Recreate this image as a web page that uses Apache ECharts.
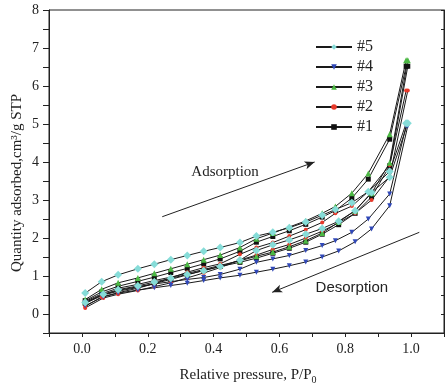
<!DOCTYPE html>
<html><head><meta charset="utf-8">
<script src="https://cdn.jsdelivr.net/npm/echarts@6/dist/echarts.min.js"></script>
<style>html,body{margin:0;padding:0;background:#fff}#c{width:447px;height:392px}</style>
</head><body><div id="c"></div>
<script>
// Relative pressure values (adsorption / desorption branches)
const xAds = [0.01,0.065,0.11,0.17,0.22,0.27,0.32,0.37,0.42,0.48,0.53,0.58,0.63,0.68,0.73,0.78,0.83,0.88,0.935,0.99];
const xDes = [0.01,0.06,0.11,0.17,0.22,0.27,0.32,0.37,0.42,0.48,0.53,0.58,0.63,0.68,0.73,0.77,0.82,0.87,0.935,0.985];
// Quantity adsorbed (cm3/g STP)
const s1Low = [0.28,0.50,0.60,0.70,0.80,0.91,1.03,1.15,1.25,1.36,1.47,1.60,1.73,1.89,2.10,2.35,2.65,3.08,3.90,6.52];
const s1Up  = [0.35,0.58,0.73,0.86,0.97,1.09,1.20,1.32,1.45,1.65,1.89,2.04,2.19,2.36,2.55,2.72,3.05,3.55,4.60,6.52];
const s2Low = [0.16,0.42,0.52,0.62,0.72,0.82,0.95,1.08,1.22,1.42,1.55,1.70,1.83,2.00,2.18,2.40,2.65,3.00,3.62,5.88];
const s2Up  = [0.20,0.45,0.56,0.68,0.80,0.95,1.10,1.22,1.32,1.57,1.75,1.88,2.05,2.22,2.41,2.65,2.84,3.22,3.92,5.88];
const s3Low = [0.33,0.55,0.68,0.78,0.88,0.97,1.07,1.17,1.28,1.40,1.52,1.63,1.77,1.93,2.13,2.42,2.72,3.18,3.98,6.68];
const s3Up  = [0.38,0.65,0.82,0.95,1.07,1.19,1.31,1.43,1.55,1.75,1.98,2.13,2.29,2.45,2.65,2.83,3.18,3.70,4.73,6.68];
const s4Low = [0.22,0.45,0.55,0.63,0.69,0.75,0.81,0.88,0.95,1.02,1.10,1.18,1.27,1.37,1.50,1.66,1.90,2.24,2.85,4.95];
const s4Up  = [0.30,0.50,0.62,0.72,0.79,0.85,0.91,0.96,1.04,1.18,1.36,1.45,1.54,1.67,1.80,1.93,2.15,2.50,3.16,4.95];
const s5Low = [0.30,0.52,0.64,0.74,0.84,0.94,1.04,1.14,1.25,1.42,1.67,1.82,1.95,2.10,2.25,2.44,2.72,3.20,3.60,5.02];
const s5Up  = [0.55,0.85,1.03,1.19,1.31,1.43,1.54,1.65,1.75,1.88,2.05,2.15,2.27,2.42,2.60,2.75,2.93,3.22,3.75,5.02];
const legendNames = ['#5','#4','#3','#2','#1'];
const xTickLabels = ['0.0','0.2','0.4','0.6','0.8','1.0'];
const yTickLabels = ['0','1','2','3','4','5','6','7','8'];

const samples = [
  {name:'#1', low:s1Low, up:s1Up, symbol:'rect', size:5, color:'#111111', rot:0},
  {name:'#2', low:s2Low, up:s2Up, symbol:'circle', size:4, color:'#e8392a', rot:0},
  {name:'#3', low:s3Low, up:s3Up, symbol:'triangle', size:6, color:'#4cb844', rot:0},
  {name:'#4', low:s4Low, up:s4Up, symbol:'triangle', size:5, color:'#3048b8', rot:180},
  {name:'#5', low:s5Low, up:s5Up, symbol:'diamond', size:8, color:'#86dcd8', rot:0}
];
const serif = 'Liberation Serif';
const series = [];
samples.forEach(s => {
  [[xAds, s.low],[xDes, s.up]].forEach(([xs, ys]) => {
    series.push({
      name: s.name, type:'line', symbol:s.symbol, symbolSize:s.size, symbolRotate:s.rot,
      showSymbol:true, animation:false,
      lineStyle:{color:'#1a1a1a', width:1},
      itemStyle:{color:s.color},
      data: xs.map((x,i)=>[x, ys[i]])
    });
  });
});
// annotation series: arrows + labels
series.push({
  type:'line', data:[], animation:false, silent:true,
  markLine:{
    silent:true, symbol:['none','arrow'], symbolSize:[6,10],
    lineStyle:{color:'#222', width:1, type:'solid'}, label:{show:false},
    data:[
      [{coord:[0.244,2.56]},{coord:[0.707,4.0]}],
      [{coord:[1.025,2.15]},{coord:[0.578,0.57]}]
    ]
  },
  markPoint:{
    silent:true, symbol:'circle', symbolSize:1, itemStyle:{color:'rgba(0,0,0,0)'},
    data:[
      {coord:[0.435,3.74], label:{show:true, position:'inside', formatter:'Adsorption', fontFamily:serif, fontSize:15, color:'#222'}},
      {coord:[0.82,0.68], label:{show:true, position:'inside', formatter:'Desorption', fontFamily:'Liberation Sans', fontSize:15, color:'#222'}}
    ]
  }
});

const chart = echarts.init(document.getElementById('c'), null, {renderer:'canvas'});
chart.setOption({
  backgroundColor:'#fff',
  animation:false,
  grid:{left:49, top:10, right:1, bottom:59, show:true, borderColor:'#222', borderWidth:1},
  legend:{
    data:legendNames, orient:'vertical', left:310, top:34, itemWidth:36, itemHeight:7, itemGap:4,
    textStyle:{fontFamily:serif, fontSize:16, color:'#222'}
  },
  xAxis:[{
    type:'value', min:-0.1, max:1.1, interval:0.1,
    axisLine:{show:true, onZero:false, lineStyle:{color:'#222'}},
    axisTick:{show:true, length:4, inside:false, lineStyle:{color:'#222'}},
    splitLine:{show:false},
    axisLabel:{margin:9, fontFamily:serif, fontSize:14, color:'#222',
      formatter:v=>{const t=v.toFixed(1); return xTickLabels.includes(t)&&Math.abs(Math.round(v*10)%2)===0?t:'';}}
  }],
  yAxis:[{
    type:'value', min:-0.5, max:8, interval:0.5,
    axisLine:{show:true, onZero:false, lineStyle:{color:'#222'}},
    axisTick:{show:true, length:6, lineStyle:{color:'#222'}},
    splitLine:{show:false},
    axisLabel:{margin:10, fontFamily:serif, fontSize:14, color:'#222',
      formatter:v=>{const t=String(v); return yTickLabels.includes(t)?t:'';}}
  },{
    type:'value', min:-0.5, max:8, interval:0.5, position:'right',
    axisLine:{show:true, onZero:false, lineStyle:{color:'#222'}},
    axisTick:{show:true, inside:true, length:3, lineStyle:{color:'#222'}},
    axisLabel:{show:false}, splitLine:{show:false}
  }],
  graphic:[
    {type:'text', x:17, y:183, rotation:Math.PI/2, style:{text:'Quantity adsorbed,cm³/g STP', font:'15px "Liberation Serif"', fill:'#222', textAlign:'center', textVerticalAlign:'middle'}},
    {type:'text', x:248, y:375, style:{rich:{a:{fontFamily:serif,fontSize:15,fill:'#222'},s:{fontFamily:serif,fontSize:10,fill:'#222',padding:[10,0,0,0]}}, text:'{a|Relative pressure, P/P}{s|0}', textAlign:'center', textVerticalAlign:'middle', fill:'#222'}}
  ],
  series: series
});
</script></body></html>
